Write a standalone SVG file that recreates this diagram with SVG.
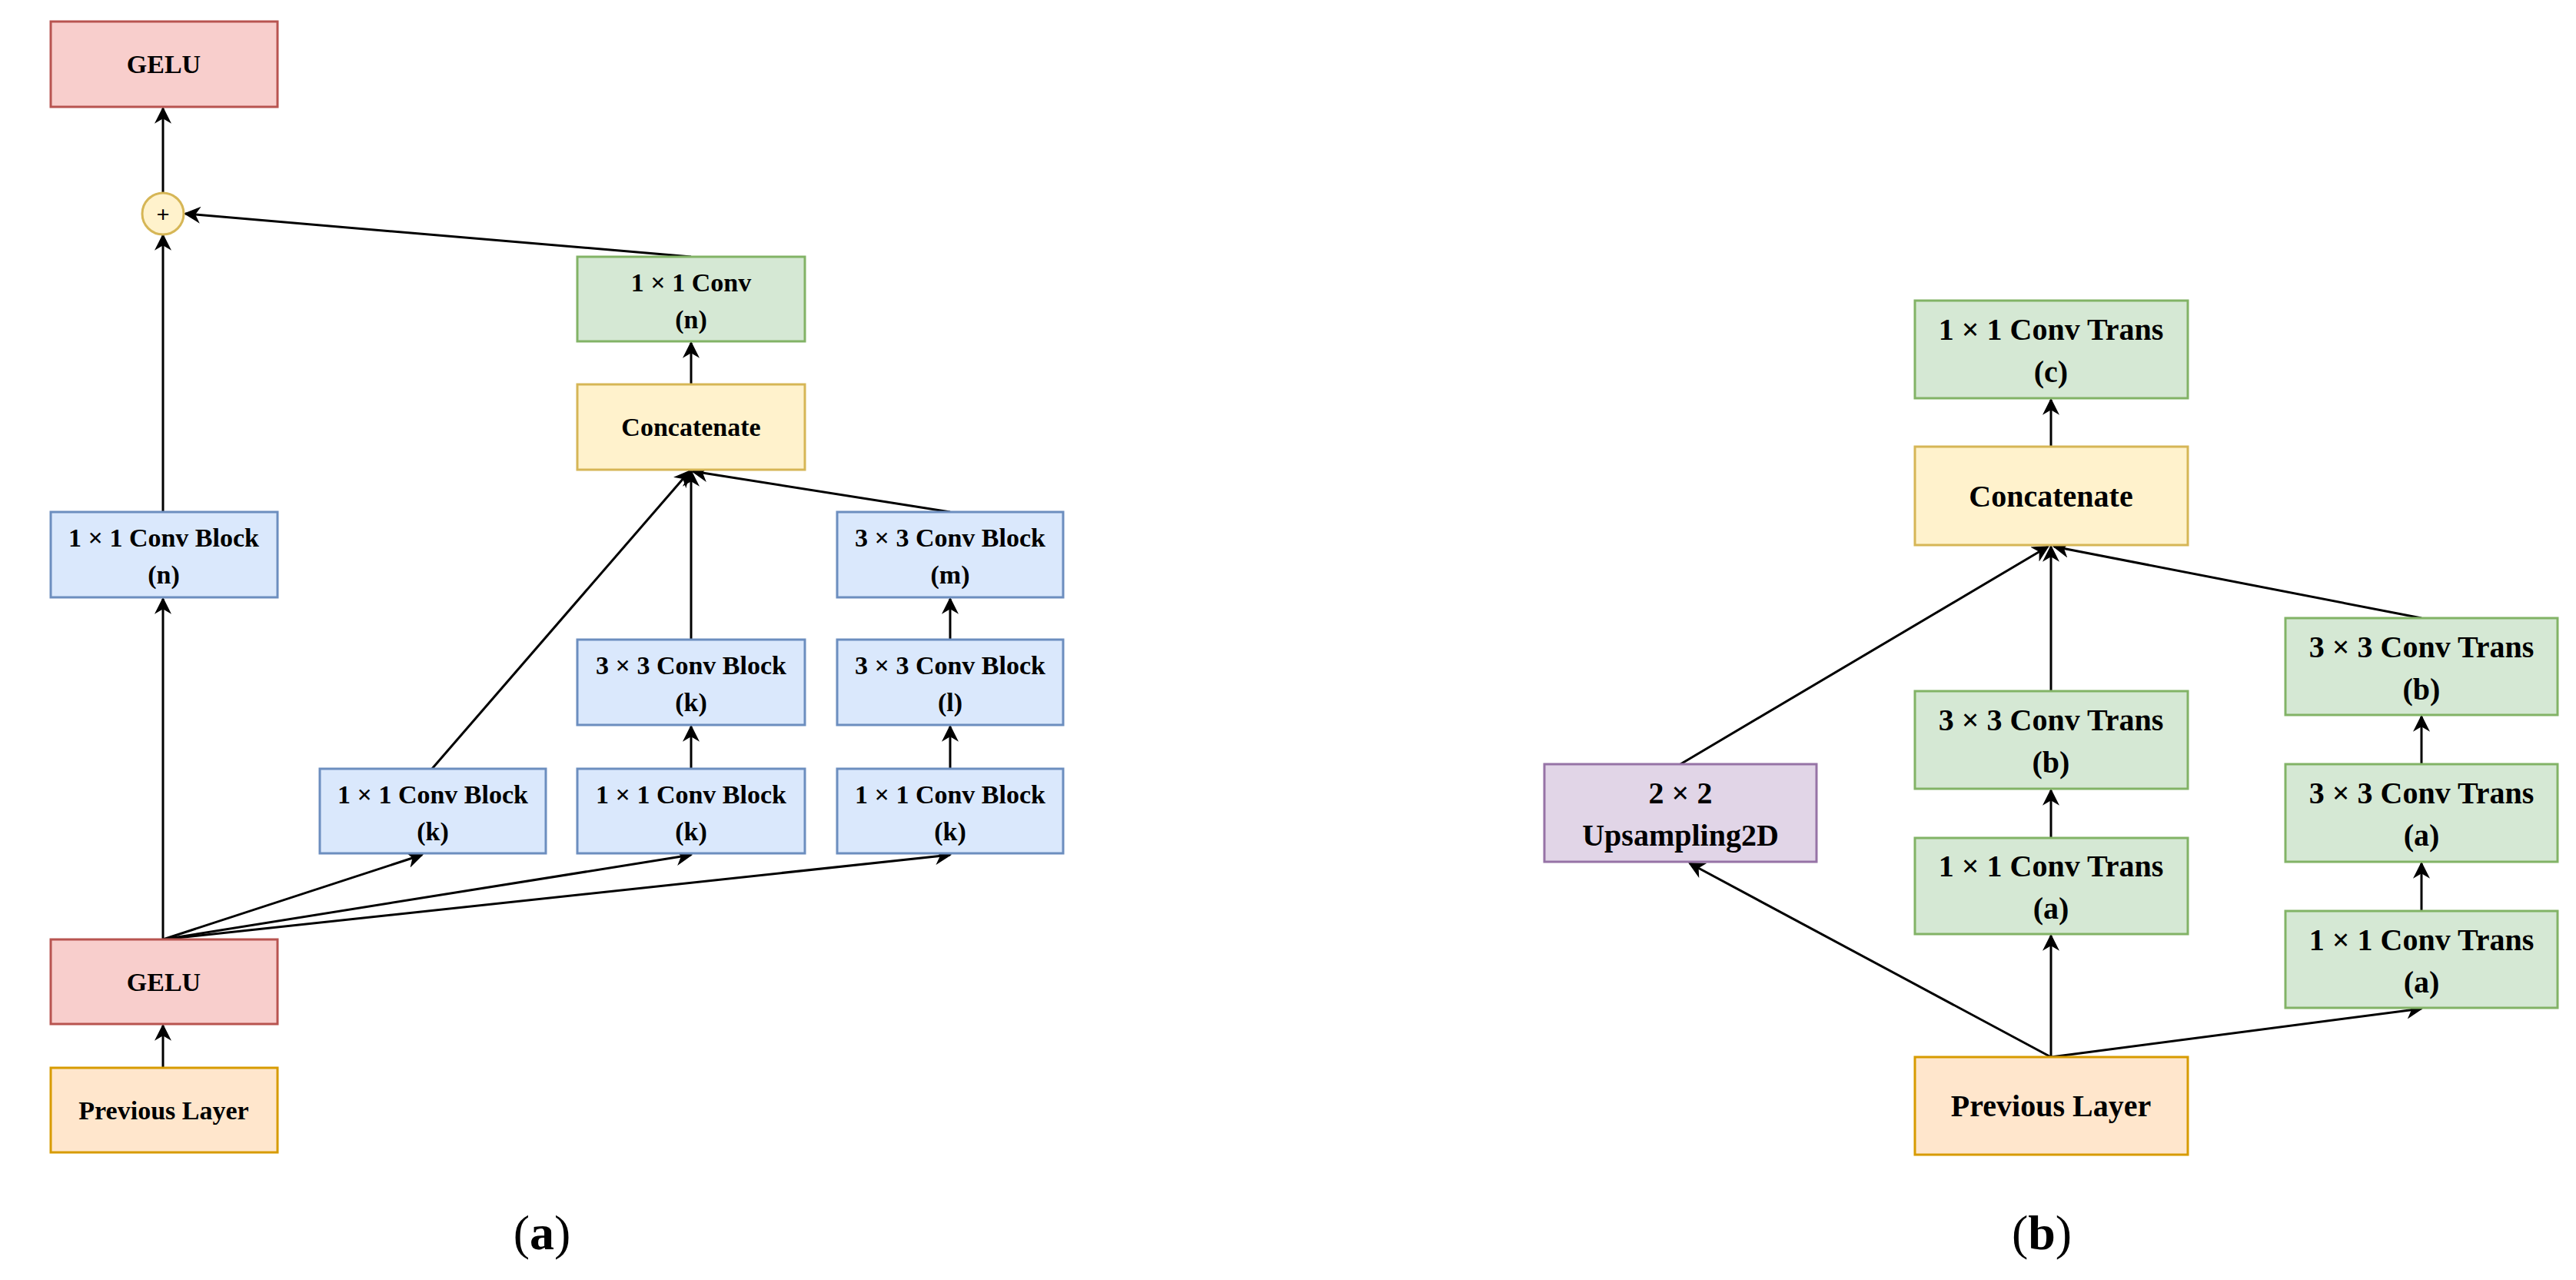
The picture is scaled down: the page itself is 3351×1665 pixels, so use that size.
<svg xmlns="http://www.w3.org/2000/svg" width="3351" height="1665" viewBox="0 0 3351 1665">
<defs>
<marker id="ar" viewBox="0 0 10 10" refX="9" refY="5" markerWidth="22" markerHeight="22" markerUnits="userSpaceOnUse" orient="auto">
<path d="M0,0 L10,5 L0,10 L3,5 z" fill="#000"/>
</marker>
<style>
text{font-family:"Liberation Serif","Times New Roman",serif;font-weight:bold;text-anchor:middle;fill:#000}
.l{font-size:34px}.r{font-size:40px}
rect{stroke-width:3}
.red{fill:#f8cecc;stroke:#b85450}.blue{fill:#dae8fc;stroke:#6c8ebf}.green{fill:#d5e8d4;stroke:#82b366}
.yel{fill:#fff2cc;stroke:#d6b656}.org{fill:#ffe6cc;stroke:#d79b00}.pur{fill:#e1d5e7;stroke:#9673a6}
.e{stroke:#000;stroke-width:3;fill:none;marker-end:url(#ar)}
</style>
</defs>
<rect width="3351" height="1665" fill="#fff"/>
<g id="edges">
<line class="e" x1="212" y1="1389" x2="212" y2="1334"/>
<line class="e" x1="212" y1="1222" x2="212" y2="779"/>
<line class="e" x1="212" y1="666" x2="212" y2="306"/>
<line class="e" x1="212" y1="250" x2="212" y2="141"/>
<line class="e" x1="899" y1="334" x2="241" y2="278"/>
<line class="e" x1="899" y1="500" x2="899" y2="446"/>
<line class="e" x1="562" y1="1000" x2="897" y2="613"/>
<line class="e" x1="899" y1="832" x2="899" y2="613"/>
<line class="e" x1="1236" y1="666" x2="901" y2="613"/>
<line class="e" x1="1236" y1="832" x2="1236" y2="779"/>
<line class="e" x1="1236" y1="1000" x2="1236" y2="945"/>
<line class="e" x1="899" y1="1000" x2="899" y2="945"/>
<line class="e" x1="212" y1="1222" x2="549" y2="1112"/>
<line class="e" x1="212" y1="1222" x2="899" y2="1112"/>
<line class="e" x1="212" y1="1222" x2="1236" y2="1112"/>
<line class="e" x1="2668" y1="1375" x2="2198" y2="1123"/>
<line class="e" x1="2668" y1="1375" x2="2668" y2="1217"/>
<line class="e" x1="2668" y1="1375" x2="3150" y2="1312"/>
<line class="e" x1="2668" y1="1090" x2="2668" y2="1028"/>
<line class="e" x1="2668" y1="899" x2="2668" y2="711"/>
<line class="e" x1="2186" y1="994" x2="2664" y2="711"/>
<line class="e" x1="3150" y1="804" x2="2672" y2="711"/>
<line class="e" x1="3150" y1="994" x2="3150" y2="932"/>
<line class="e" x1="3150" y1="1185" x2="3150" y2="1123"/>
<line class="e" x1="2668" y1="581" x2="2668" y2="520"/>
</g>
<g id="gelu_top"><rect class="red" x="66" y="28" width="295" height="111"/><text class="l" x="213" y="95">GELU</text></g>
<g id="plus"><circle cx="212" cy="278" r="27" fill="#fff2cc" stroke="#d6b656" stroke-width="3"/><text x="212" y="289" style="font-size:30px">+</text></g>
<g id="conv_n"><rect class="green" x="751" y="334" width="296" height="110"/><text class="l" x="899" y="379">1 × 1 Conv</text><text class="l" x="899" y="427">(n)</text></g>
<g id="concat_a"><rect class="yel" x="751" y="500" width="296" height="111"/><text class="l" x="899" y="567">Concatenate</text></g>
<g id="block_n"><rect class="blue" x="66" y="666" width="295" height="111"/><text class="l" x="213" y="711">1 × 1 Conv Block</text><text class="l" x="213" y="759">(n)</text></g>
<g id="block_m"><rect class="blue" x="1089" y="666" width="294" height="111"/><text class="l" x="1236" y="711">3 × 3 Conv Block</text><text class="l" x="1236" y="759">(m)</text></g>
<g id="block_3k"><rect class="blue" x="751" y="832" width="296" height="111"/><text class="l" x="899" y="877">3 × 3 Conv Block</text><text class="l" x="899" y="925">(k)</text></g>
<g id="block_l"><rect class="blue" x="1089" y="832" width="294" height="111"/><text class="l" x="1236" y="877">3 × 3 Conv Block</text><text class="l" x="1236" y="925">(l)</text></g>
<g id="block_k1"><rect class="blue" x="416" y="1000" width="294" height="110"/><text class="l" x="563" y="1045">1 × 1 Conv Block</text><text class="l" x="563" y="1093">(k)</text></g>
<g id="block_k2"><rect class="blue" x="751" y="1000" width="296" height="110"/><text class="l" x="899" y="1045">1 × 1 Conv Block</text><text class="l" x="899" y="1093">(k)</text></g>
<g id="block_k3"><rect class="blue" x="1089" y="1000" width="294" height="110"/><text class="l" x="1236" y="1045">1 × 1 Conv Block</text><text class="l" x="1236" y="1093">(k)</text></g>
<g id="gelu_bot"><rect class="red" x="66" y="1222" width="295" height="110"/><text class="l" x="213" y="1289">GELU</text></g>
<g id="prev_a"><rect class="org" x="66" y="1389" width="295" height="110"/><text class="l" x="213" y="1456">Previous Layer</text></g>
<text x="705" y="1625" style="font-size:64px;font-weight:normal">(<tspan font-weight="bold">a</tspan>)</text>
<g id="trans_c"><rect class="green" x="2491" y="391" width="355" height="127"/><text class="r" x="2668" y="442">1 × 1 Conv Trans</text><text class="r" x="2668" y="497">(c)</text></g>
<g id="concat_b"><rect class="yel" x="2491" y="581" width="355" height="128"/><text class="r" x="2668" y="659">Concatenate</text></g>
<g id="trans_b_mid"><rect class="green" x="2491" y="899" width="355" height="127"/><text class="r" x="2668" y="950">3 × 3 Conv Trans</text><text class="r" x="2668" y="1005">(b)</text></g>
<g id="trans_a_mid"><rect class="green" x="2491" y="1090" width="355" height="125"/><text class="r" x="2668" y="1140">1 × 1 Conv Trans</text><text class="r" x="2668" y="1195">(a)</text></g>
<g id="prev_b"><rect class="org" x="2491" y="1375" width="355" height="127"/><text class="r" x="2668" y="1452">Previous Layer</text></g>
<g id="upsample"><rect class="pur" x="2009" y="994" width="354" height="127"/><text class="r" x="2186" y="1045">2 × 2</text><text class="r" x="2186" y="1100">Upsampling2D</text></g>
<g id="trans_b_r"><rect class="green" x="2973" y="804" width="354" height="126"/><text class="r" x="3150" y="855">3 × 3 Conv Trans</text><text class="r" x="3150" y="910">(b)</text></g>
<g id="trans_a_r"><rect class="green" x="2973" y="994" width="354" height="127"/><text class="r" x="3150" y="1045">3 × 3 Conv Trans</text><text class="r" x="3150" y="1100">(a)</text></g>
<g id="trans_1a_r"><rect class="green" x="2973" y="1185" width="354" height="126"/><text class="r" x="3150" y="1236">1 × 1 Conv Trans</text><text class="r" x="3150" y="1291">(a)</text></g>
<text x="2656" y="1625" style="font-size:64px;font-weight:normal">(<tspan font-weight="bold">b</tspan>)</text>
</svg>
